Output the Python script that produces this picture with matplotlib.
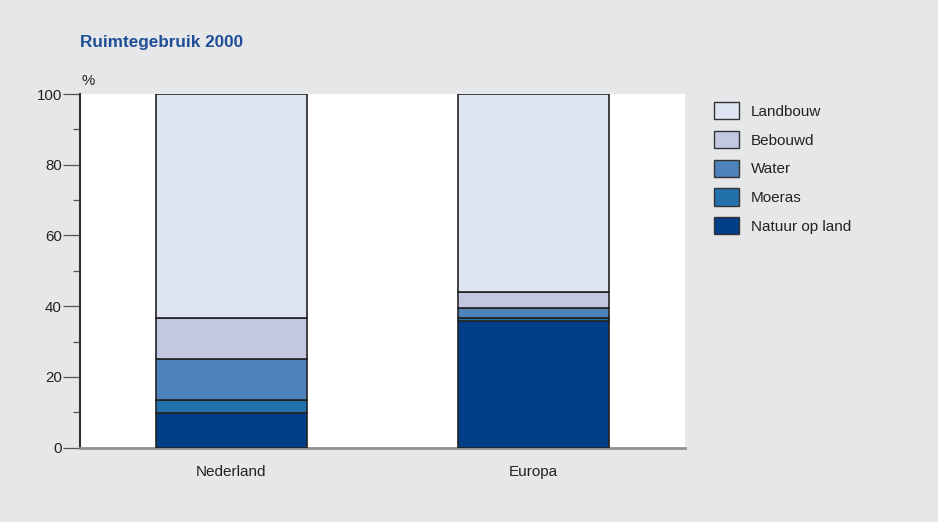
import matplotlib
matplotlib.use("Agg")
import matplotlib.pyplot as plt
import matplotlib.patches as mpatches
from matplotlib.ticker import MultipleLocator
import numpy as np

plt.rcParams["font.family"] = ["Liberation Sans", "DejaVu Sans"]

# ─── Data (% of area, year 2000) ─────────────────────────────────────────────
regions = ["Nederland", "Europa"]
categories = ["Natuur op land", "Moeras", "Water", "Bebouwd", "Landbouw"]
natuur   = [9.8, 35.7]
moeras   = [3.6, 1.0]
water    = [11.6, 2.7]
bebouwd  = [11.6, 4.7]
landbouw = [63.4, 55.9]

COLORS = ["#003F87", "#2270AC", "#4D82BB", "#C3C7E2", "#DEE4F2"]
BG = "#E6E7E9"

fig = plt.figure(figsize=(9.38, 5.22), dpi=100)
fig.patch.set_facecolor(BG)
ax = fig.add_axes([80 / 938, 1 - 447.7 / 522, 605 / 938, 353.7 / 522])
ax.set_facecolor("white")

x = np.arange(len(regions))
bottom = np.zeros(len(regions))
handles = []
for name, vals, col in zip(categories, [natuur, moeras, water, bebouwd, landbouw], COLORS):
    ax.bar(x, vals, bottom=bottom, width=0.5, color=col,
           edgecolor="#222222", linewidth=1.2, zorder=3)
    bottom += np.array(vals)
    handles.append(mpatches.Patch(facecolor=col, edgecolor="#333333",
                                  linewidth=1.0, label=name))

ax.set_xlim(-0.5, 1.5)
ax.set_ylim(0, 100)
ax.set_xticks(x)
ax.set_xticklabels(regions, fontsize=11, color="#222222")
ax.tick_params(axis="x", length=0, pad=12.5)
ax.yaxis.set_major_locator(MultipleLocator(20))
ax.yaxis.set_minor_locator(MultipleLocator(10))
ax.tick_params(axis="y", which="major", length=12, width=0.9, color="#555555",
               labelsize=10.8, labelcolor="#222222", pad=1)
ax.tick_params(axis="y", which="minor", length=5, width=0.9, color="#555555")

for s in ["top", "right"]:
    ax.spines[s].set_visible(False)
ax.spines["left"].set_color("#333333")
ax.spines["left"].set_linewidth(1.5)
ax.spines["bottom"].set_color("#909090")
ax.spines["bottom"].set_linewidth(2.0)

fig.text(80 / 938, 1 - 43 / 522, "Ruimtegebruik 2000", fontsize=12.3,
         fontweight="bold", color="#1F4E96", ha="left", va="center")
fig.text(81 / 938, 1 - 81 / 522, "%", fontsize=10.8, color="#222222",
         ha="left", va="center")

fig.legend(handles=handles[::-1], loc="upper left",
           bbox_to_anchor=(708 / 938, 1 - 96 / 522), frameon=False,
           fontsize=11, handlelength=1.65, handleheight=1.35,
           labelspacing=0.76, handletextpad=0.75, borderaxespad=0,
           labelcolor="#222222")

fig.savefig("out.png", dpi=100, facecolor=fig.get_facecolor())
